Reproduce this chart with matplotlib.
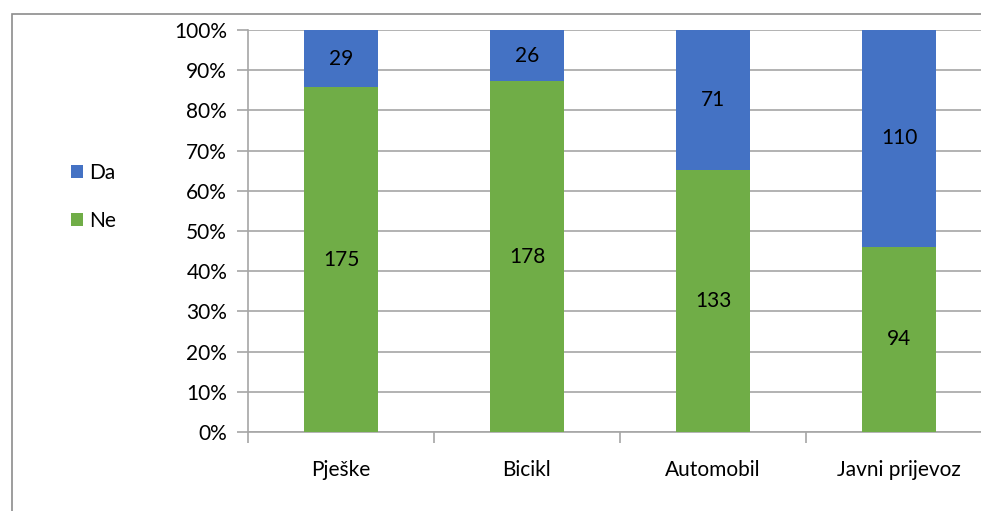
import matplotlib
matplotlib.use("Agg")
import matplotlib.pyplot as plt
from matplotlib.patches import Rectangle
import numpy as np

categories = ["Pješke", "Bicikl", "Automobil", "Javni prijevoz"]
da_values = [29, 26, 71, 110]
ne_values = [175, 178, 133, 94]
series_names = ["Da", "Ne"]
y_tick_labels = ["0%", "10%", "20%", "30%", "40%", "50%", "60%", "70%", "80%", "90%", "100%"]

plt.rcParams['font.family'] = ['Lato', 'DejaVu Sans']

W, H = 981, 511
fig = plt.figure(figsize=(W/100, H/100), dpi=100)
ax = fig.add_axes([248/W, (H-432)/H, 744/W, (432-30)/H])

da = np.array(da_values, float)
ne = np.array(ne_values, float)
tot = da + ne
ne_pct = ne / tot * 100
da_pct = da / tot * 100
x = np.arange(len(categories))
blue = "#4472C4"
green = "#70AD47"
bw = 0.4
fs = 15
ax.bar(x, ne_pct, width=bw, color=green, zorder=3, label=series_names[1])
ax.bar(x, da_pct, width=bw, bottom=ne_pct, color=blue, zorder=3, label=series_names[0])

for i in range(len(categories)):
    ax.text(x[i], ne_pct[i]/2, f"{ne_values[i]}", ha='center', va='center', fontsize=fs, color='#000000', zorder=4)
    ax.text(x[i], ne_pct[i] + da_pct[i]/2, f"{da_values[i]}", ha='center', va='center', fontsize=fs, color='#000000', zorder=4)

ax.set_xlim(-0.5, 3.5)
ax.set_ylim(0, 100)
ax.set_yticks(np.arange(0, 101, 10))
ax.set_yticklabels(y_tick_labels, fontsize=fs, color='#000000')
ax.yaxis.grid(True, color='#A6A6A6', linewidth=1.2, zorder=0)
ax.set_xticks(np.arange(-0.5, 4.0, 1.0))
ax.set_xticklabels([])
ax.set_xticks(x, minor=True)
ax.set_xticklabels(categories, minor=True, fontsize=fs, color='#000000')
ax.tick_params(axis='x', which='major', length=8, color='#A6A6A6', width=1.2, direction='out')
ax.tick_params(axis='x', which='minor', length=0, pad=20)
ax.tick_params(axis='y', length=8, color='#A6A6A6', width=1.2, pad=7)
for s in ['top', 'right']:
    ax.spines[s].set_visible(False)
for s in ['left', 'bottom']:
    ax.spines[s].set_color('#A6A6A6')
    ax.spines[s].set_linewidth(1.2)

# legend
handles, labels = ax.get_legend_handles_labels()
leg = fig.legend(handles[::-1], labels[::-1], loc='upper left', bbox_to_anchor=(52/W, 1-144/H),
                 frameon=False, fontsize=fs, handlelength=0.6, handleheight=0.6,
                 handletextpad=0.3, labelspacing=1.35)

fig.add_artist(Rectangle((12/W, -0.1), 2, (H-14)/H + 0.1, transform=fig.transFigure,
                         fill=False, edgecolor='#8C8C8C', linewidth=1.2))

fig.savefig("out.png", dpi=100)
